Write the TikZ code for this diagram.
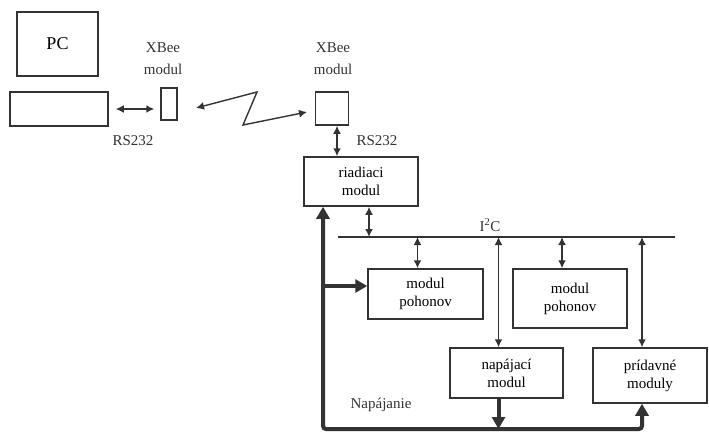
\documentclass[tikz,border=0pt]{standalone}
\usepackage{fontspec}
\setmainfont{Liberation Serif}
\usetikzlibrary{arrows.meta,positioning}
\definecolor{ink}{HTML}{333333}

\begin{document}
\begin{tikzpicture}[x=1pt,y=-1pt,font=\fontsize{15}{18}\selectfont,
box/.style={draw=ink,line width=1.5pt,inner sep=0pt,align=center,fill=white},
lbl/.style={align=center,text=ink},
dbl/.style={{Latex[length=8pt,width=8pt]}-{Latex[length=8pt,width=8pt]},line width=1.8pt,draw=ink},
pwr/.style={line width=4pt,draw=ink},
bus/.style={line width=2.4pt,draw=ink}]
\useasboundingbox (0,0) rectangle (709,442);
% PC side
\node[box,minimum width=81,minimum height=64,font=\fontsize{18}{21}\selectfont](pc) at (57.5,44){PC};
\node[box,minimum width=98,minimum height=34](port) at (59,109){};
\node[box,minimum width=16,minimum height=32](xb1) at (169,104){};
\node[lbl,font=\fontsize{15}{22}\selectfont](xb1l) at (163,59){XBee\\modul};
\node[lbl](rs1) at (133,141){RS232};
\draw[dbl,shorten <=7pt,shorten >=6pt](port.east)--(xb1.west |- port.east);
% radio link
\coordinate (z1) at (196,108);
\coordinate (z2) at (257,92);
\coordinate (z3) at (243,125);
\coordinate (z4) at (307,112);
\draw[dbl,line width=1.4pt](z1)--(z2)--(z3)--(z4);
% robot side
\node[box,minimum width=33,minimum height=33](xb2) at (332,108.5){};
\node[lbl,font=\fontsize{15}{22}\selectfont](xb2l) at (333,59){XBee\\modul};
\node[box,minimum width=114,minimum height=49](riad) at (361,181.5){riadiaci\\modul};
\node[lbl](rs2) at (377,141){RS232};
\draw[dbl]([xshift=5]xb2.south)--([xshift=5]xb2.south |- riad.north);
% I2C bus
\coordinate (bl) at (338,237);
\coordinate (br) at (675,237);
\draw[bus](bl)--(br);
\node[lbl](i2c) at (490,225){I\textsuperscript{2}C};
\node[box,minimum width=115,minimum height=50](mp1) at (425.5,294){modul\\pohonov};
\node[box,minimum width=114,minimum height=59](mp2) at (570,298.5){modul\\pohonov};
\node[box,minimum width=113,minimum height=50](nap) at (506.5,373){napájací\\modul};
\node[box,minimum width=114,minimum height=55](prid) at (650,375.5){prídavné\\moduly};
\draw[dbl]([xshift=8]riad.south)--([xshift=8]riad.south |- bl);
\draw[dbl]([xshift=-8]mp1.north |- bl)--([xshift=-8]mp1.north);
\draw[dbl]([xshift=-8]mp2.north |- bl)--([xshift=-8]mp2.north);
\draw[dbl]([xshift=-8]nap.north |- bl)--([xshift=-8]nap.north);
\draw[dbl]([xshift=-8]prid.north |- bl)--([xshift=-8]prid.north);
% power lines
\coordinate (pw) at (323,429);
\draw[pwr,rounded corners=3pt,{Triangle[length=12pt,width=13pt]}-{Triangle[length=12pt,width=13pt]}]
  (pw |- riad.south)--(pw)--([xshift=-8]prid.south |- pw)--([xshift=-8]prid.south);
\draw[pwr,-{Triangle[length=12pt,width=13pt]}](pw |- mp1.west)++(0,-8)--([yshift=8]mp1.west);
\draw[pwr,-{Triangle[length=12pt,width=13pt]}]([xshift=-8]nap.south)--([xshift=-8]nap.south |- pw);
\node[lbl](napl) at (381,405){Napájanie};
\end{tikzpicture}
\end{document}
